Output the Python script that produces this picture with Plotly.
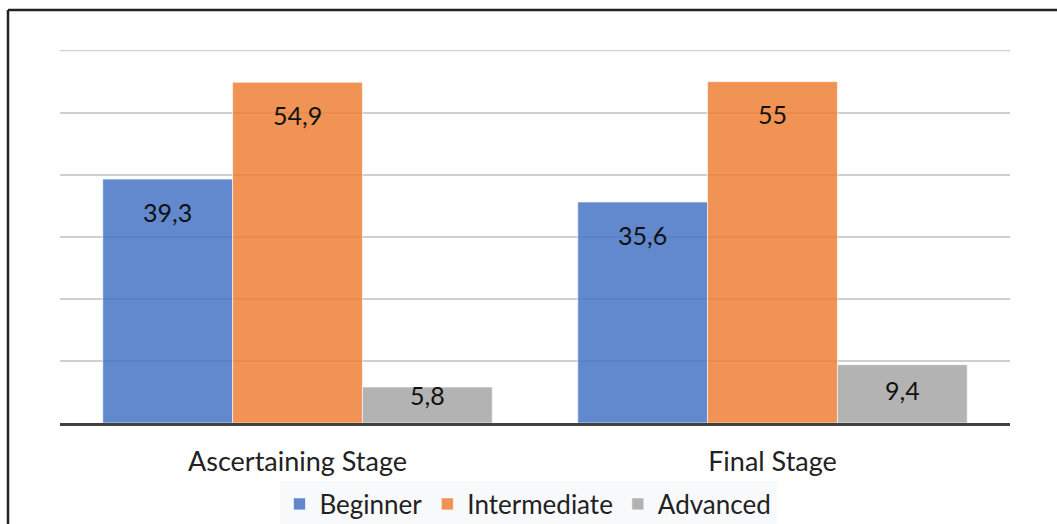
import plotly.graph_objects as go

# Data
stages = ["Ascertaining Stage", "Final Stage"]
beginner = [39.3, 35.6]
intermediate = [54.9, 55.0]
advanced = [5.8, 9.4]
series_names = ["Beginner", "Intermediate", "Advanced"]

W, H = 1057, 524
ML, MR, MT, MB = 60, 47, 50, 101
PW, PH = W - ML - MR, H - MT - MB
YMAX = 60
GRID = "#d0d0d0"

colors = ["rgba(68,114,196,0.84)", "rgba(237,125,49,0.83)", "rgba(165,165,165,0.84)"]
FONT = "Lato"

fig = go.Figure()
for name, vals, col in zip(series_names, [beginner, intermediate, advanced], colors):
    fig.add_trace(go.Bar(
        name=name, x=stages, y=vals,
        marker=dict(color=col, line=dict(color="rgba(255,255,255,0.6)", width=1)),
    ))

# value labels placed just inside the top of each bar
bar_px = PW / len(stages) * (1 - 0.18) / 3
label_drop = [[33, 33], [33, 32], [8, 25]]
for si, vals in enumerate([beginner, intermediate, advanced]):
    for ci, v in enumerate(vals):
        txt = f"{v:g}".replace(".", ",")
        fig.add_annotation(
            x=stages[ci], y=v, text=txt, showarrow=False,
            xshift=(si - 1) * bar_px, yshift=-label_drop[si][ci],
            font=dict(family=FONT, size=25, color="#111"),
        )

# gridline along the top of the value range (plotly skips the one on the edge)
fig.add_shape(type="line", xref="paper", yref="y", x0=0, x1=1, y0=YMAX, y1=YMAX,
              line=dict(color=GRID, width=1.5), layer="below")

# outer frame (left and top edges)
fx = (8 - ML) / PW
fy_top = 1 + (MT - 10) / PH
fy_bot = -(MB + 5) / PH
fig.add_shape(type="line", xref="paper", yref="paper", x0=fx, x1=fx, y0=fy_bot, y1=fy_top,
              line=dict(color="#222", width=2.5))
fig.add_shape(type="line", xref="paper", yref="paper", x0=fx, x1=1 + (MR + 5) / PW, y0=fy_top, y1=fy_top,
              line=dict(color="#222", width=2.5))

fig.update_layout(
    width=W, height=H,
    margin=dict(l=ML, r=MR, t=MT, b=MB, autoexpand=False),
    paper_bgcolor="white", plot_bgcolor="white",
    barmode="group", bargap=0.18, bargroupgap=0,
    font=dict(family=FONT, size=27, color="#222"),
    showlegend=True,
    legend=dict(
        orientation="h", xref="container", yref="container",
        x=528 / W, xanchor="center", y=1 - 504 / H, yanchor="middle",
        bgcolor="#f8f9fb", font=dict(family=FONT, size=26, color="#222"),
        itemwidth=30, tracegroupgap=0,
    ),
)
fig.update_xaxes(
    showline=True, linecolor="#404040", linewidth=3,
    showgrid=False, ticks="", ticklabelstandoff=13,
    tickfont=dict(family=FONT, size=27, color="#222"),
)
fig.update_yaxes(
    range=[0, YMAX + 0.1], dtick=10, showticklabels=False,
    showgrid=True, gridcolor=GRID, gridwidth=1.5, zeroline=False,
)

fig.write_html("out.html")
